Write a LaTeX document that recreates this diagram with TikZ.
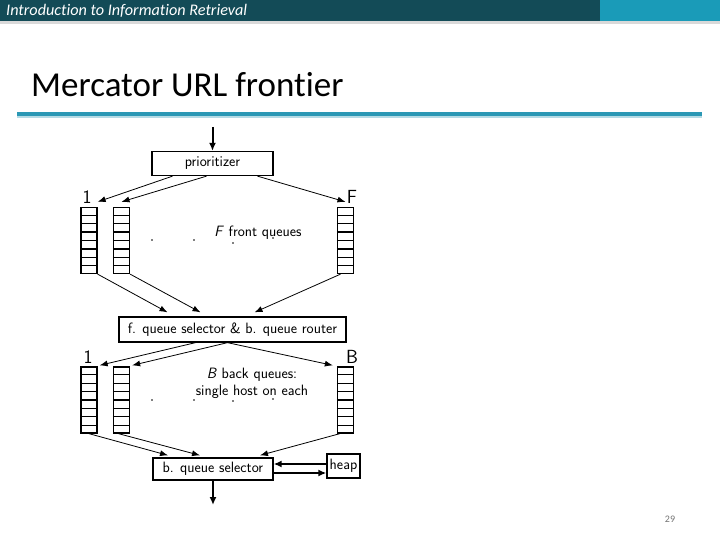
\documentclass[tikz,border=0pt]{standalone}
\usepackage{fontspec}
\setmainfont{Carlito}[Ligatures=NoCommon]
\usetikzlibrary{arrows,arrows.meta,positioning,calc}
\definecolor{hdrdark}{HTML}{134B57}
\definecolor{hdrlight}{HTML}{1A9BB8}
\definecolor{rulecol}{HTML}{2B98B5}
\newfontfamily\lmsans{Latin Modern Sans}
\tikzset{
  box/.style={draw,line width=1.3pt,inner sep=0pt,minimum height=24pt,font=\lmsans\fontsize{15}{17}\selectfont},
  queue/.style={draw,line width=1.3pt,inner sep=0pt,minimum width=16pt,minimum height=66pt},
  flow/.style={-{Latex[length=8pt,width=6pt]},line width=0.8pt},
  bigflow/.style={-{Latex[length=8pt,width=7pt]},line width=2pt},
  qlabel/.style={font=\lmsans\fontsize{19}{21}\selectfont},
  note/.style={font=\lmsans\fontsize{15}{17}\selectfont,align=center}
}
\begin{document}
\begin{tikzpicture}[x=1pt,y=-1pt]
\useasboundingbox (0,0) rectangle (720,540);
% Header bar
  \fill[hdrdark] (0,0) rectangle (600,21);
  \fill[hdrlight] (600,0) rectangle (720,21);
  \fill[black!15] (0,21) rectangle (720,24);
  \node[anchor=west,text=white,font=\fontsize{16.2}{18}\selectfont\itshape,inner sep=0pt] (hdr) at (6,11) {Introduction to Information Retrieval};
% Title and rule
  \node[anchor=base west,font=\fontsize{35}{40}\selectfont,inner sep=0pt] (title) at (31,97) {Mercator URL frontier};
  \fill[rulecol] (17,112) rectangle (702,116);
  \fill[rulecol!35] (17,116) rectangle (702,118);
% Prioritizer
  \coordinate (in) at (212.5,127);
  \node[box,minimum width=121pt] (prio) at (212.5,163.5) {prioritizer};
  \draw[bigflow] (in) -- (prio.north);
% Front queues
  \node[queue] (fq1) at (89,240.5) {};
  \node[queue] (fq2) at (121.5,240.5) {};
  \node[queue] (fqF) at (345.5,240.5) {};
  \node[qlabel] (lf1) at (87,197) {1};
  \node[qlabel] (lfF) at (352,197) {F};
  \node[note] (fnote) at (258,233) {\textsl{F} front queues};
  \foreach \x/\y in {152/240,194/240,233/243,273/238}
    \fill (\x,\y) circle (0.9);
% Prioritizer to front queues
  \draw[flow] ([xshift=-40pt]prio.south) -- ([yshift=5pt]fq1.north east);
  \draw[flow] ([xshift=-6pt]prio.south) -- ([yshift=5pt]fq2.north);
  \draw[flow] ([xshift=45pt]prio.south) -- ([yshift=5pt]fqF.north);
% Front queue selector
  \node[box,minimum width=227pt,minimum height=25pt] (fsel) at (232.5,329.5) {f. queue selector \& b. queue router};
  \draw[flow] (fq1.south east) -- ([xshift=-65pt,yshift=4pt]fsel.north);
  \draw[flow] (fq2.south east) -- ([xshift=-32pt,yshift=4pt]fsel.north);
  \draw[flow] ([xshift=-5pt]fqF.south) -- ([xshift=22pt,yshift=4pt]fsel.north);
% Back queues
  \node[queue] (bq1) at (89,400) {};
  \node[queue] (bq2) at (121.5,400) {};
  \node[queue] (bqB) at (345.5,400) {};
  \node[qlabel] (lb1) at (88,357) {1};
  \node[qlabel] (lbB) at (352,357) {B};
  \node[note] (bnote) at (252,383.5) {\textsl{B} back queues:\\single host on each};
  \foreach \x/\y in {152/400,194/400,233/401,273/399}
    \fill (\x,\y) circle (0.9);
% Router to back queues
  \draw[flow] ([xshift=-37pt]fsel.south) -- ([xshift=2pt,yshift=1pt]bq1.north east);
  \draw[flow] ([xshift=-5pt]fsel.south) -- ([xshift=2pt,yshift=1pt]bq2.north east);
  \draw[flow] ([xshift=-5pt]fsel.south) -- ([xshift=-4pt,yshift=1pt]bqB.north west);
% Queue cells
  \foreach \q in {fq1,fq2,fqF,bq1,bq2,bqB}
    \foreach \i in {1,...,7}
      \draw[line width=1.3pt] ($(\q.north west)!\i/8!(\q.south west)$) -- ($(\q.north east)!\i/8!(\q.south east)$);
% Back queue selector and heap
  \node[box,minimum width=120pt,minimum height=22pt] (bsel) at (213,469) {b. queue selector};
  \node[box,minimum width=33pt,minimum height=24pt] (heap) at (343.5,466) {heap};
  \draw[flow] (bq1.south) -- ([xshift=-45pt,yshift=2pt]bsel.north);
  \draw[flow] ([xshift=-3pt]bq2.south) -- ([xshift=-13pt,yshift=2pt]bsel.north);
  \draw[flow] ([xshift=3pt]bqB.south west) -- ([xshift=47pt,yshift=2pt]bsel.north);
  \draw[bigflow] ([yshift=2pt]heap.west) -- ([yshift=2pt]heap.west -| bsel.east);
  \draw[bigflow] ([yshift=-7pt]heap.west -| bsel.east) -- ([yshift=-7pt]heap.west);
  \coordinate (out) at (213,505);
  \draw[bigflow] (bsel.south) -- (out);
% Page number
  \node[text=black!55,font=\fontsize{10}{12}\selectfont] (page) at (670,519) {29};
\end{tikzpicture}
\end{document}
